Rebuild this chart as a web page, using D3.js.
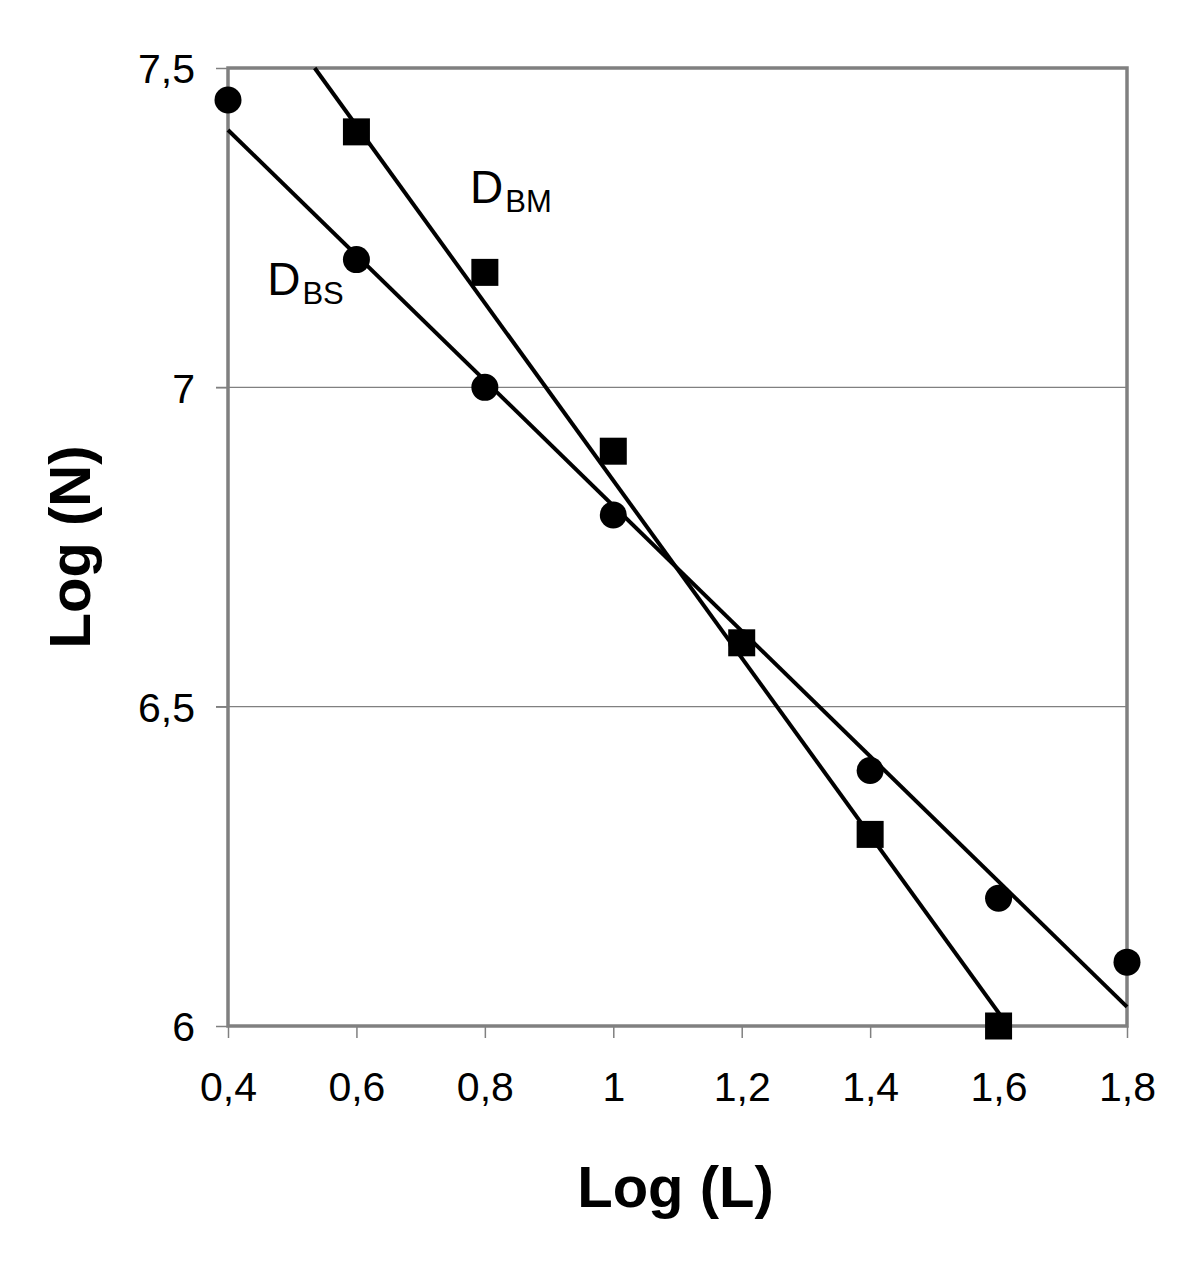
<!DOCTYPE html>
<html>
<head>
<meta charset="utf-8">
<script src="https://cdn.jsdelivr.net/npm/d3@7"></script>
<style>
  html, body { margin: 0; padding: 0; background: #fff; }
  svg { display: block; font-family: "Liberation Sans", Arial, sans-serif; }
</style>
</head>
<body>
<svg id="chart" width="1200" height="1277"></svg>
<script>
// ---- data ----
const xTicks = [0.4, 0.6, 0.8, 1.0, 1.2, 1.4, 1.6, 1.8];
const yTicks = [6, 6.5, 7, 7.5];
const xTickLabels = ["0,4", "0,6", "0,8", "1", "1,2", "1,4", "1,6", "1,8"];
const yTickLabels = ["6", "6,5", "7", "7,5"];

// D_BS series (circles)
const bsX = [0.4, 0.6, 0.8, 1.0, 1.2, 1.4, 1.6, 1.8];
const bsY = [7.45, 7.2, 7.0, 6.8, 6.6, 6.4, 6.2, 6.1];
// D_BM series (squares)
const bmX = [0.6, 0.8, 1.0, 1.2, 1.4, 1.6];
const bmY = [7.4, 7.18, 6.9, 6.6, 6.3, 6.0];

// fitted lines as drawn in the reference (end points)
const fitBS = [[0.4, 7.403], [1.8, 6.030]];
const fitBM = [[0.535, 7.5], [1.615, 6.0]];

const labelBS = {x: 0.461, y: 7.145, main: "D", sub: "BS"};
const labelBM = {x: 0.777, y: 7.289, main: "D", sub: "BM"};

// ---- layout ----
const svg = d3.select("#chart");
const L = 228, R = 1127, T = 68, B = 1026;
const x = d3.scaleLinear().domain([0.4, 1.8]).range([L, R]);
const y = d3.scaleLinear().domain([6, 7.5]).range([B, T]);
const gray = "#808080";

// gridlines (7 and 6.5) extending as ticks to the left
svg.append("g").selectAll("line")
  .data([6.5, 7]).join("line")
  .attr("x1", L - 12).attr("x2", R)
  .attr("y1", d => y(d)).attr("y2", d => y(d))
  .attr("stroke", gray).attr("stroke-width", 1.2);

// axes via d3
const xAxis = svg.append("g").attr("transform", `translate(0,${B})`)
  .call(d3.axisBottom(x).tickValues(xTicks).tickSize(12).tickPadding(34)
    .tickFormat((d, i) => xTickLabels[i]));
const yAxis = svg.append("g").attr("transform", `translate(${L},0)`)
  .call(d3.axisLeft(y).tickValues(yTicks).tickSize(12).tickPadding(21)
    .tickFormat((d, i) => yTickLabels[i]));
[xAxis, yAxis].forEach(g => {
  g.select(".domain").remove();
  g.selectAll(".tick line").attr("stroke", gray).attr("stroke-width", 1.5);
  g.selectAll(".tick text").attr("fill", "#000")
    .style("font-family", "'Liberation Sans', Arial, sans-serif")
    .style("font-size", "41px");
});
yAxis.selectAll(".tick text").attr("dy", "0.36em");

// plot frame
svg.append("rect")
  .attr("x", L).attr("y", T).attr("width", R - L).attr("height", B - T)
  .attr("fill", "none").attr("stroke", gray).attr("stroke-width", 3.5);

// fit lines
const line = d3.line().x(d => x(d[0])).y(d => y(d[1]));
[fitBS, fitBM].forEach(f => {
  svg.append("path").attr("d", line(f))
    .attr("fill", "none").attr("stroke", "#000").attr("stroke-width", 4);
});

// circles
svg.append("g").selectAll("circle")
  .data(bsX.map((v, i) => [v, bsY[i]])).join("circle")
  .attr("cx", d => x(d[0])).attr("cy", d => y(d[1]))
  .attr("r", 13.5).attr("fill", "#000");

// squares
const s = 27;
svg.append("g").selectAll("rect")
  .data(bmX.map((v, i) => [v, bmY[i]])).join("rect")
  .attr("x", d => x(d[0]) - s / 2).attr("y", d => y(d[1]) - s / 2)
  .attr("width", s).attr("height", s).attr("fill", "#000");

// series labels
[labelBS, labelBM].forEach(lb => {
  const t = svg.append("text")
    .attr("x", x(lb.x)).attr("y", y(lb.y))
    .attr("fill", "#000").style("font-size", "46px");
  t.append("tspan").text(lb.main);
  t.append("tspan").attr("dx", 2).attr("dy", 9).style("font-size", "31px").text(lb.sub);
});

// axis titles
svg.append("text")
  .attr("x", (L + R) / 2 - 2).attr("y", 1207)
  .attr("text-anchor", "middle").attr("font-weight", "bold")
  .style("font-size", "58px").attr("fill", "#000")
  .text("Log (L)");
svg.append("text")
  .attr("transform", `translate(90,${(T + B) / 2}) rotate(-90)`)
  .attr("text-anchor", "middle").attr("font-weight", "bold")
  .style("font-size", "58px").attr("fill", "#000")
  .text("Log (N)");
</script>
</body>
</html>
